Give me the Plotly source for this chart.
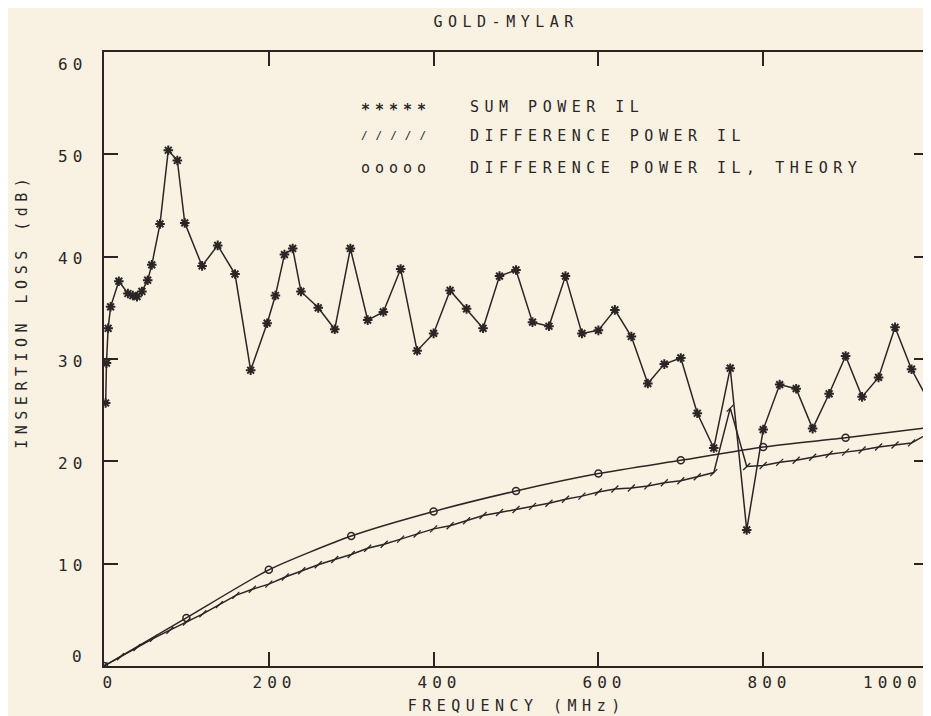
import plotly.graph_objects as go

# ---------------- data ----------------
sum_freq = [2, 3, 5, 8, 18, 29, 35, 40, 46, 53, 58, 68, 78, 89, 98, 119, 138, 159, 178, 198,
            208, 219, 229, 239, 260, 280, 299, 320, 339, 360, 380, 400, 420, 440, 460, 480,
            500, 520, 540, 560, 580, 600, 620, 640, 660, 680, 700, 720, 740, 760, 780, 800,
            820, 840, 860, 880, 900, 920, 940, 960, 980, 1000]
sum_il = [25.7, 29.6, 33.0, 35.1, 37.6, 36.4, 36.2, 36.1, 36.6, 37.7, 39.2, 43.2, 50.4, 49.4,
          43.3, 39.1, 41.1, 38.3, 28.9, 33.5, 36.2, 40.2, 40.8, 36.6, 35.0, 32.9, 40.8, 33.8,
          34.6, 38.8, 30.8, 32.5, 36.7, 34.9, 33.0, 38.1, 38.7, 33.6, 33.2, 38.1, 32.5, 32.8,
          34.8, 32.2, 27.6, 29.5, 30.1, 24.7, 21.3, 29.1, 13.3, 23.1, 27.5, 27.1, 23.2, 26.6,
          30.3, 26.3, 28.2, 33.1, 29.0, 26.0]

diff_freq = [0, 20, 40, 60, 80, 100, 120, 140, 160, 180, 200, 220, 240, 260, 280, 300, 320,
             340, 360, 380, 400, 420, 440, 460, 480, 500, 520, 540, 560, 580, 600, 620, 640,
             660, 680, 700, 720, 740, 760, 780, 800, 820, 840, 860, 880, 900, 920, 940, 960,
             980, 1000]
diff_il = [0.0, 0.9, 1.8, 2.7, 3.5, 4.3, 5.1, 6.0, 6.9, 7.5, 8.0, 8.7, 9.3, 9.9, 10.4, 10.9,
           11.5, 11.9, 12.4, 12.9, 13.4, 13.7, 14.2, 14.7, 15.0, 15.3, 15.6, 15.9, 16.3, 16.6,
           17.0, 17.3, 17.4, 17.6, 17.9, 18.1, 18.5, 18.9, 25.2, 19.5, 19.6, 19.9, 20.1, 20.4,
           20.7, 20.9, 21.1, 21.4, 21.6, 21.8, 22.7]

theory_freq = [0, 100, 200, 300, 400, 500, 600, 700, 800, 900, 1000]
theory_il = [0.0, 4.7, 9.4, 12.7, 15.1, 17.1, 18.8, 20.1, 21.4, 22.3, 23.3]

x_tick_vals = [0, 200, 400, 600, 800, 1000]
x_tick_text = ["0", "200", "400", "600", "800", "1000"]
y_tick_vals = [0, 10, 20, 30, 40, 50, 60]
y_tick_text = ["0", "10", "20", "30", "40", "50", "60"]

legend_symbols = ["*****", "/////", "ooooo"]
legend_labels = ["SUM POWER IL", "DIFFERENCE POWER IL", "DIFFERENCE POWER IL, THEORY"]

title_text = "GOLD-MYLAR"
x_title = "FREQUENCY (MHz)"
y_title = "INSERTION LOSS (dB)"

# ---------------- style ----------------
INK = "#2b2525"
BG = "#f9f2e2"
FONT = "DejaVu Sans Mono"

fig = go.Figure()

fig.add_trace(go.Scatter(
    x=theory_freq, y=theory_il, name=legend_labels[2], mode="lines+markers",
    line=dict(color=INK, width=1.5, shape="spline", smoothing=0.6),
    marker=dict(symbol="circle-open", size=7, color=INK, line=dict(width=1.5, color=INK)),
))
fig.add_trace(go.Scatter(
    x=diff_freq, y=diff_il, name=legend_labels[1], mode="lines+markers",
    line=dict(color=INK, width=1.5),
    marker=dict(symbol="line-ne", size=7, color=INK, line=dict(width=1.3, color=INK)),
))
fig.add_trace(go.Scatter(
    x=sum_freq, y=sum_il, name=legend_labels[0], mode="lines+markers",
    line=dict(color=INK, width=1.5),
    marker=dict(symbol="asterisk-open", size=8, color=INK, line=dict(width=2, color=INK)),
))

annotations = []

# x tick labels
for v, t in zip(x_tick_vals, x_tick_text):
    shift = -36 if v == max(x_tick_vals) else 6
    annotations.append(dict(x=v, xref="x", y=0, yref="paper", yanchor="top", xanchor="center",
                            yshift=-5, xshift=shift, text=t, showarrow=False,
                            font=dict(family=FONT, size=16, color=INK)))
# y tick labels
for v, t in zip(y_tick_vals, y_tick_text):
    if v == max(y_tick_vals):
        ys = -12
    elif v == min(y_tick_vals):
        ys = 10
    else:
        ys = -2
    annotations.append(dict(x=0, xref="paper", y=v, yref="y", xanchor="right", align="right",
                            yanchor="middle", xshift=-15, yshift=ys, text=t, showarrow=False,
                            font=dict(family=FONT, size=16, color=INK)))

# titles
annotations.append(dict(x=0.489, xref="paper", y=1, yref="paper", yanchor="middle",
                        yshift=30, text=title_text, showarrow=False,
                        font=dict(family=FONT, size=15, color=INK)))
annotations.append(dict(x=0.5, xref="paper", y=0, yref="paper", yanchor="middle",
                        yshift=-40, text=x_title, showarrow=False,
                        font=dict(family=FONT, size=15, color=INK)))
annotations.append(dict(x=0, xref="paper", y=0.579, yref="paper", xanchor="center",
                        yanchor="middle", xshift=-82, textangle=-90, text=y_title,
                        showarrow=False, font=dict(family=FONT, size=15, color=INK)))

# text legend
row_y = [0.9106, 0.8634, 0.8114]
sym_size = [15, 11, 15]
sym_shift = [-3, 0, 0]
for sym, lab, ry, ss, sh in zip(legend_symbols, legend_labels, row_y, sym_size, sym_shift):
    annotations.append(dict(x=0.310, xref="paper", y=ry, yref="paper", xanchor="left",
                            align="left", yanchor="middle", yshift=sh, text=sym,
                            showarrow=False,
                            font=dict(family=FONT, size=ss, color=INK,
                                      weight="bold" if sym.startswith("*") else "normal")))
    annotations.append(dict(x=0.442, xref="paper", y=ry, yref="paper", xanchor="left",
                            align="left", yanchor="middle", text=lab, showarrow=False,
                            font=dict(family=FONT, size=15, color=INK)))

axis_common = dict(showgrid=False, zeroline=False, showline=True, linewidth=1.5,
                   linecolor=INK, mirror="ticks", ticks="inside", ticklen=14,
                   tickwidth=1.5, tickcolor=INK, showticklabels=False)

fig.update_layout(
    width=931, height=716,
    margin=dict(l=96, r=9, t=44, b=58),
    paper_bgcolor=BG, plot_bgcolor=BG,
    showlegend=False,
    xaxis=dict(range=[0, 1000], tickvals=x_tick_vals, **axis_common),
    yaxis=dict(range=[0, 60], tickvals=y_tick_vals, **axis_common),
    annotations=annotations,
)

post = """
var gd = document.getElementById('{plot_id}');
function spacing(){
  gd.querySelectorAll('text.annotation-text').forEach(function(t){
    var s = t.textContent;
    var ls = '5.5px';
    if (s === '/////') ls = '8px';
    else if (s === '*****' || s === 'ooooo') ls = '5px';
    else if (/^[0-9]+$/.test(s)) ls = '5px';
    t.style.letterSpacing = ls;
  });
}
spacing();
if (gd.on) gd.on('plotly_afterplot', spacing);
setTimeout(spacing, 30);
"""

fig.write_html("out.html", post_script=post)
